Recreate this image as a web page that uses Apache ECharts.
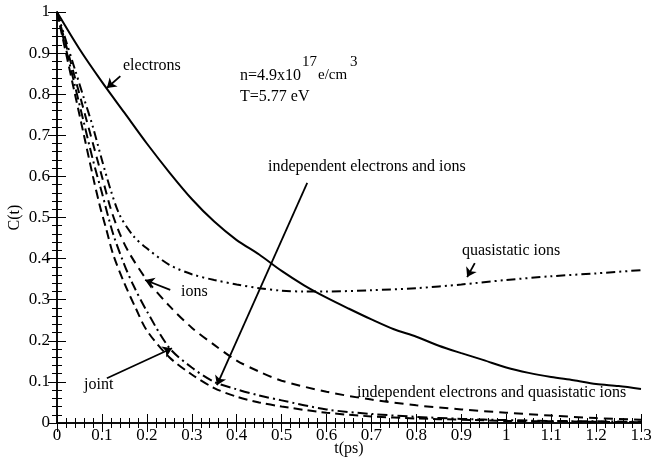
<!DOCTYPE html>
<html>
<head>
<meta charset="utf-8">
<script src="https://cdn.jsdelivr.net/npm/echarts@6/dist/echarts.min.js"></script>
<style>
  html, body { margin: 0; padding: 0; background: #fff; }
  #main { width: 654px; height: 459px; }
</style>
</head>
<body>
<div id="main"></div>
<script>
// values: [t(ps), C(t)]
var electrons = [[0,1],[0.05,0.91],[0.1,0.83],[0.15,0.755],[0.2,0.68],[0.25,0.61],[0.3,0.545],[0.35,0.49],[0.4,0.445],[0.45,0.41],[0.5,0.37],[0.55,0.335],[0.6,0.305],[0.65,0.278],[0.7,0.252],[0.75,0.228],[0.8,0.21],[0.85,0.188],[0.9,0.17],[0.95,0.153],[1.0,0.135],[1.05,0.122],[1.1,0.112],[1.15,0.104],[1.2,0.095],[1.25,0.09],[1.3,0.083]];
var quasistaticIons = [[0,1],[0.02,0.93],[0.04,0.86],[0.06,0.79],[0.08,0.72],[0.1,0.64],[0.12,0.565],[0.14,0.505],[0.17,0.455],[0.2,0.425],[0.25,0.385],[0.3,0.362],[0.35,0.348],[0.4,0.337],[0.45,0.328],[0.5,0.322],[0.55,0.32],[0.6,0.32],[0.7,0.323],[0.8,0.328],[0.9,0.337],[1.0,0.348],[1.1,0.357],[1.2,0.364],[1.3,0.372]];
var ions = [[0,1],[0.02,0.92],[0.04,0.84],[0.06,0.76],[0.08,0.68],[0.1,0.6],[0.12,0.52],[0.14,0.46],[0.16,0.415],[0.2,0.348],[0.25,0.285],[0.3,0.232],[0.35,0.19],[0.4,0.152],[0.45,0.125],[0.5,0.103],[0.6,0.076],[0.7,0.057],[0.8,0.043],[0.9,0.033],[1.0,0.025],[1.1,0.018],[1.2,0.012],[1.3,0.008]];
var indepElectronsIons = [[0,1],[0.02,0.91],[0.04,0.82],[0.06,0.73],[0.08,0.64],[0.1,0.56],[0.125,0.46],[0.15,0.385],[0.17,0.335],[0.2,0.272],[0.25,0.183],[0.3,0.135],[0.35,0.1],[0.4,0.082],[0.45,0.067],[0.5,0.055],[0.6,0.033],[0.7,0.022],[0.8,0.015],[0.9,0.01],[1.0,0.007],[1.1,0.005],[1.2,0.004],[1.3,0.003]];
var joint = [[0,1],[0.02,0.9],[0.04,0.8],[0.06,0.7],[0.08,0.6],[0.095,0.53],[0.11,0.47],[0.125,0.41],[0.15,0.34],[0.175,0.28],[0.2,0.225],[0.25,0.16],[0.3,0.118],[0.35,0.085],[0.4,0.064],[0.45,0.05],[0.5,0.04],[0.6,0.025],[0.7,0.016],[0.8,0.011],[0.9,0.008],[1.0,0.005],[1.1,0.004],[1.2,0.003],[1.3,0.002]];

// annotation arrows in data coordinates: [from, to]
var arrowElectrons = [[0.141,0.844],[0.111,0.815]];
var arrowIndepIons = [[0.557,0.584],[0.356,0.092]];
var arrowQuasi = [[0.93,0.389],[0.913,0.355]];
var arrowIons = [[0.252,0.324],[0.196,0.348]];
var arrowJoint = [[0.111,0.109],[0.256,0.182]];

var serif = '"Liberation Serif", "DejaVu Serif", serif';

function curve(name, data, type, width) {
  return {
    name: name,
    type: 'line',
    data: data,
    smooth: 0.3,
    symbol: 'none',
    silent: true,
    lineStyle: { color: '#000', width: width, type: type }
  };
}

function arrow(c) {
  return {
    type: 'lines',
    coordinateSystem: 'cartesian2d',
    silent: true,
    symbol: ['none', 'arrow'],
    symbolSize: 9,
    lineStyle: { color: '#000', width: 1.8, opacity: 1 },
    data: [{ coords: c }]
  };
}

function txt(s, x, y, size) {
  return { type: 'text', left: x, top: y, style: { text: s, font: size + 'px ' + serif, fill: '#000' } };
}

var myChart = echarts.init(document.getElementById('main'));

var tickFmt = function (v) { return String(+v.toFixed(1)); };

myChart.setOption({
  animation: false,
  backgroundColor: '#fff',
  grid: { left: 57, right: 13, top: 12, bottom: 36, outerBoundsMode: 'none', containLabel: false },
  xAxis: [{
    type: 'value', min: 0, max: 1.3, interval: 0.1,
    name: 't(ps)', nameLocation: 'middle', nameGap: 18, nameMoveOverlap: false,
    nameTextStyle: { fontFamily: serif, fontSize: 16, color: '#000' },
    axisLine: { lineStyle: { color: '#000', width: 1.5 } },
    axisTick: { inside: true, length: 9, lineStyle: { color: '#000' } },
    minorTick: { show: true, splitNumber: 5, length: 5, lineStyle: { color: '#000' } },
    axisLabel: { fontFamily: serif, fontSize: 17, color: '#000', margin: 4, formatter: tickFmt },
    splitLine: { show: false }
  }, {
    type: 'value', min: 0, max: 1.3, interval: 0.1, position: 'top',
    axisLine: { lineStyle: { color: '#000', width: 1.5 } },
    axisTick: { inside: true, length: 9, lineStyle: { color: '#000' } },
    minorTick: { show: true, splitNumber: 5, length: 5, lineStyle: { color: '#000' } },
    axisLabel: { show: false },
    splitLine: { show: false }
  }],
  yAxis: [{
    type: 'value', min: 0, max: 1, interval: 0.1,
    name: 'C(t)', nameLocation: 'middle', nameGap: 34, nameRotate: 90, nameMoveOverlap: false,
    nameTextStyle: { fontFamily: serif, fontSize: 16, color: '#000' },
    axisLine: { show: true, lineStyle: { color: '#000', width: 1.5 } },
    axisTick: { show: true, inside: true, length: 9, lineStyle: { color: '#000' } },
    minorTick: { show: true, splitNumber: 5, length: 5, lineStyle: { color: '#000' } },
    axisLabel: { fontFamily: serif, fontSize: 17, color: '#000', margin: 7, formatter: tickFmt },
    splitLine: { show: false }
  }, {
    type: 'value', min: 0, max: 1, interval: 0.1, position: 'right',
    axisLine: { show: true, lineStyle: { color: '#000', width: 1.5 } },
    axisTick: { show: true, inside: true, length: 9, lineStyle: { color: '#000' } },
    minorTick: { show: true, splitNumber: 5, length: 5, lineStyle: { color: '#000' } },
    axisLabel: { show: false },
    splitLine: { show: false }
  }],
  series: [
    curve('electrons', electrons, 'solid', 2),
    curve('quasistatic ions', quasistaticIons, [9, 4, 2, 4, 2, 4], 2),
    curve('ions', ions, [9, 6], 2),
    curve('independent electrons and ions', indepElectronsIons, [10, 4, 2, 4], 2),
    curve('joint', joint, [9, 5], 2),
    arrow(arrowElectrons),
    arrow(arrowIndepIons),
    arrow(arrowQuasi),
    arrow(arrowIons),
    arrow(arrowJoint)
  ],
  graphic: [
    txt('electrons', 123, 58, 16),
    txt('n=4.9x10', 240, 68, 16),
    txt('17', 302, 55, 15),
    txt('e/cm', 318, 68, 15),
    txt('3', 350, 55, 15),
    txt('T=5.77 eV', 240, 89, 16),
    txt('independent electrons and ions', 268, 159, 16),
    txt('quasistatic ions', 462, 243, 16),
    txt('ions', 181, 284, 16),
    txt('joint', 84, 377, 16),
    txt('independent electrons and quasistatic ions', 357, 385, 16)
  ]
});
</script>
</body>
</html>
